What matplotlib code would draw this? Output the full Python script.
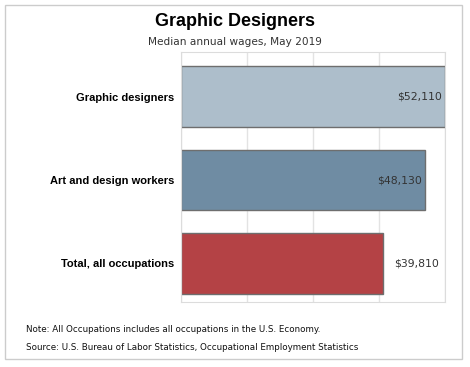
import matplotlib
matplotlib.use("Agg")
import matplotlib.pyplot as plt
from matplotlib.patches import Rectangle

categories = ["Graphic designers", "Art and design workers", "Total, all occupations"]
wages = [52110, 48130, 39810]
colors = ["#adbecb", "#6f8ca3", "#b44245"]
value_labels = ["$52,110", "$48,130", "$39,810"]
inside = [True, True, False]

fig = plt.figure(figsize=(4.70, 3.67), dpi=100)
ax = fig.add_axes([181 / 470, 1 - 302 / 367, 264 / 470, 250 / 367])

y = list(range(len(categories)))
ax.barh(y, wages, height=0.73, color=colors, edgecolor="#6e6e6e", linewidth=1, zorder=2)
xmax = max(wages)
ax.set_xlim(0, xmax)
ax.set_ylim(len(categories) - 0.5 - 0.036, -0.5 - 0.036)
ax.set_xticks([xmax * i / 4 for i in range(5)])
ax.set_xticklabels([])
ax.tick_params(axis="x", length=0)
ax.tick_params(axis="y", length=0, pad=5)
ax.set_yticks(y)
ax.set_yticklabels(categories, fontsize=8, fontweight="bold", family="Liberation Sans")
ax.grid(axis="x", color="#e3e3e3", linewidth=1, zorder=0)
for s in ax.spines.values():
    s.set_color("#dcdcdc")

for yi, w, lab, ins in zip(y, wages, value_labels, inside):
    if ins:
        ax.annotate(lab, (w, yi), xytext=(-2, 0), textcoords="offset points",
                    ha="right", va="center", fontsize=7.8, color="#333333", zorder=3)
    else:
        ax.annotate(lab, (w, yi), xytext=(8, 0), textcoords="offset points",
                    ha="left", va="center", fontsize=7.8, color="#333333", zorder=3)

fig.text(0.5, 1 - 21 / 367, "Graphic Designers", ha="center", va="center",
         fontsize=13, fontweight="bold", family="Liberation Sans")
fig.text(0.5, 1 - 42 / 367, "Median annual wages, May 2019", ha="center", va="center",
         fontsize=7.6, color="#333333")
fig.text(26 / 470, 1 - 330 / 367, "Note: All Occupations includes all occupations in the U.S. Economy.",
         ha="left", va="center", fontsize=6.3, color="#111111")
fig.text(26 / 470, 1 - 347 / 367, "Source: U.S. Bureau of Labor Statistics, Occupational Employment Statistics",
         ha="left", va="center", fontsize=6.3, color="#111111")

fig.patches.append(Rectangle((5 / 470, 1 - 359 / 367), 457 / 470, 354 / 367,
                             transform=fig.transFigure, fill=False,
                             edgecolor="#cccccc", linewidth=1))

fig.savefig("out.png", dpi=100)
